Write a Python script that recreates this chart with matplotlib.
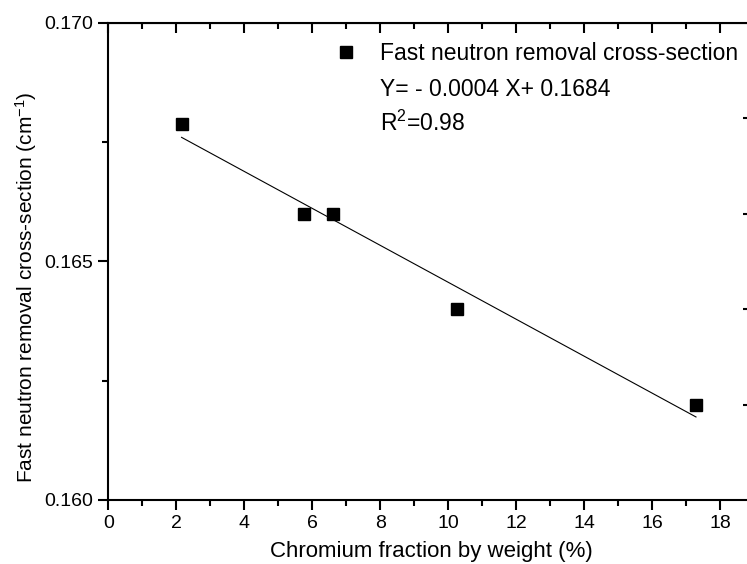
import numpy as np
import matplotlib
matplotlib.use("Agg")
import matplotlib.pyplot as plt

plt.rcParams['font.family'] = ['Liberation Sans', 'DejaVu Sans']
plt.rcParams['mathtext.fontset'] = 'custom'
plt.rcParams['mathtext.rm'] = 'Liberation Sans'
plt.rcParams['mathtext.it'] = 'Liberation Sans:italic'

# datos
cromo = [2.15, 5.76, 6.59, 10.24, 17.28]
seccion = [0.16788, 0.1660, 0.1660, 0.1640, 0.1620]

xticks = [0, 2, 4, 6, 8, 10, 12, 14, 16, 18]
yticks = [0.160, 0.165, 0.170]
yticks_der = [0.162, 0.164, 0.166, 0.168]

fig = plt.figure(figsize=(7.47, 5.64), dpi=100)
ax = fig.add_axes([0.1452, 0.1135, 0.8648, 0.8463])

# ajuste lineal
m, b = np.polyfit(cromo, seccion, 1)
xfit = np.array([min(cromo), max(cromo)])
ax.plot(xfit, m * xfit + b, color='black', lw=0.8)
ax.plot(cromo, seccion, 's', color='black', ms=8,
        label='Fast neutron removal cross-section')

ax.set_xlim(0, 19)
ax.set_ylim(0.160, 0.170)
ax.set_xticks(xticks)
ax.set_xticks(np.arange(1, 19, 2), minor=True)
ax.set_yticks(yticks)
ax.set_yticks([0.1625, 0.1675], minor=True)
ax.yaxis.set_major_formatter(matplotlib.ticker.FormatStrFormatter('%.3f'))

for s in ax.spines.values():
    s.set_linewidth(1.5)
ax.tick_params(which='major', direction='out', length=7, width=1.5,
               labelsize=14, pad=4)
ax.tick_params(which='minor', direction='out', length=4, width=1.5)

# eje superior con ticks hacia adentro
arriba = ax.secondary_xaxis('top')
arriba.set_xticks(xticks)
arriba.set_xticks(np.arange(1, 19, 2), minor=True)
arriba.tick_params(which='major', direction='in', length=7, width=1.5,
                   labeltop=False)
arriba.tick_params(which='minor', direction='in', length=4, width=1.5)

# eje derecho
derecha = ax.secondary_yaxis('right')
derecha.set_yticks(yticks_der)
derecha.tick_params(direction='in', length=8, width=1.5, labelright=False)

ax.set_xlabel('Chromium fraction by weight (%)', fontsize=16, labelpad=6)
ax.set_ylabel('Fast neutron removal cross-section (cm$^{\\mathregular{-1}}$)',
              fontsize=15)
ax.yaxis.set_label_coords(-0.108, 0.445)

ax.legend(loc='center left', bbox_to_anchor=(0.4479, 0.9043),
          bbox_transform=fig.transFigure, frameon=False, fontsize=16.5,
          handlelength=1, handletextpad=0.98, borderpad=0, borderaxespad=0)
fig.text(380 / 747, 1 - 90 / 564, 'Y= - 0.0004 X+ 0.1684', fontsize=16.5,
         va='center', ha='left')
fig.text(380 / 747, 1 - 123 / 564, 'R$^{\\mathregular{2}}$=0.98', fontsize=16.5,
         va='center', ha='left')

fig.savefig('out.png', dpi=100)
